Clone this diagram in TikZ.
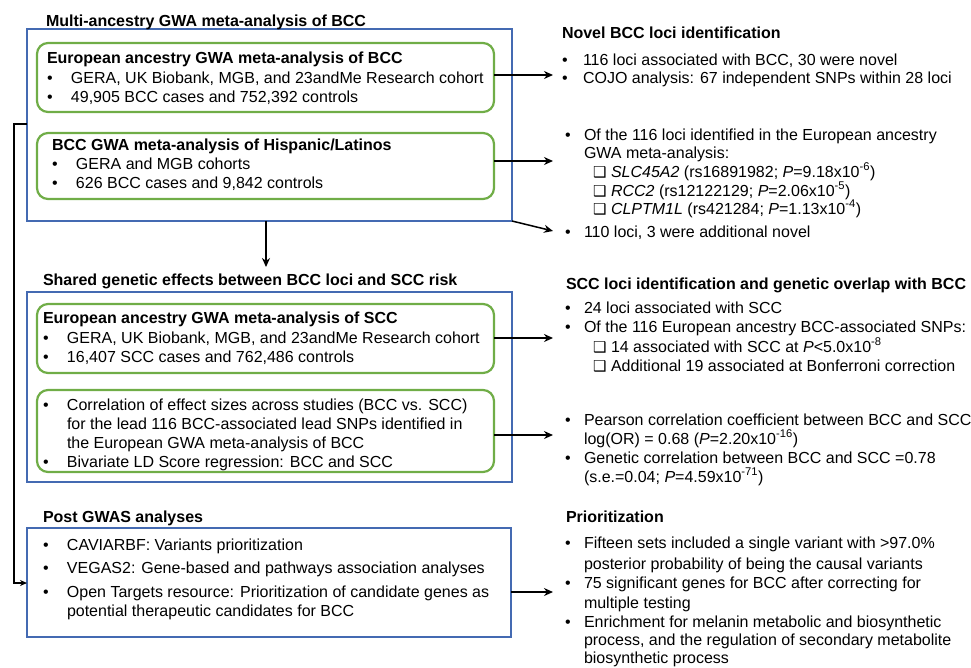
\documentclass[tikz,border=0pt]{standalone}
\usepackage{fontspec}
\setmainfont{Liberation Sans}
\newfontfamily\dejavu{DejaVu Sans}
\usetikzlibrary{arrows.meta}
\definecolor{boxblue}{RGB}{68,106,178}
\definecolor{boxgreen}{RGB}{112,173,71}
\newcommand\tstrut{\rule{0pt}{13pt}}
\newcommand\bL{\makebox[24pt][l]{\textbullet}}
\newcommand\bR{\makebox[21pt][l]{\textbullet}}
\newcommand\bS{\makebox[19pt][l]{\textbullet}}
\newcommand\cb{\hspace*{28pt}\makebox[18pt][l]{{\dejavu\fontsize{15}{19}\selectfont ❑}}}
\newcommand\spx[1]{\textsuperscript{#1}}
\begin{document}
\begin{tikzpicture}[x=1pt,y=-1pt,
  bluebox/.style={draw=boxblue, line width=1.5pt, anchor=north west, inner sep=0pt, outer sep=0pt},
  greenbox/.style={draw=boxgreen, line width=2.2pt, rounded corners=11pt, anchor=north west, inner sep=0pt, outer sep=0pt},
  txt/.style={anchor=north west, inner sep=0pt, outer sep=0pt, align=left, font=\fontsize{16}{19}\selectfont},
  ttl/.style={txt, font=\fontsize{16}{19}\selectfont\bfseries},
  arr/.style={line width=1.5pt, -{Stealth[length=9pt,width=8pt]}}]
\useasboundingbox (0,0) rectangle (971,667);

% boxes
\node[bluebox, minimum width=485pt, minimum height=192pt] (b1) at (27,29) {};
\node[bluebox, minimum width=485pt, minimum height=190pt] (b2) at (27,292) {};
\node[bluebox, minimum width=484pt, minimum height=109pt] (b3) at (27,528) {};
\node[greenbox, minimum width=457pt, minimum height=69pt] (g1) at (37,43) {};
\node[greenbox, minimum width=457pt, minimum height=66pt] (g2) at (37,133) {};
\node[greenbox, minimum width=457pt, minimum height=69pt] (g3) at (37,304) {};
\node[greenbox, minimum width=457pt, minimum height=82pt] (g4) at (37,390) {};

% left texts
\node[ttl] (t1) at (46,13) {\tstrut Multi-ancestry GWA meta-analysis of BCC};
\node[txt] (g1t) at (47,50) {\tstrut\textbf{European ancestry GWA meta-analysis of BCC}\\[1pt]
  \bL GERA, UK Biobank, MGB, and 23andMe Research cohort\\
  \bL 49,905 BCC cases and 752,392 controls};
\node[txt] (g2t) at (52,137) {\tstrut\textbf{BCC GWA meta-analysis of Hispanic/Latinos}\\
  \bL GERA and MGB cohorts\\
  \bL 626 BCC cases and 9,842 controls};
\node[ttl] (t2) at (43,272) {\tstrut Shared genetic effects between BCC loci and SCC risk};
\node[txt] (g3t) at (43,310) {\tstrut\textbf{European ancestry GWA meta-analysis of SCC}\\[1pt]
  \bL GERA, UK Biobank, MGB, and 23andMe Research cohort\\
  \bL 16,407 SCC cases and 762,486 controls};
\node[txt] (g4t) at (43,397) {\tstrut\bL Correlation of effect sizes across studies (BCC vs. SCC)\\
  \hspace*{24pt}for the lead 116 BCC-associated lead SNPs identified in\\
  \hspace*{24pt}the European GWA meta-analysis of BCC\\
  \bL Bivariate LD Score regression: BCC and SCC};
\node[ttl] (t3) at (43,509) {\tstrut Post GWAS analyses};
\node[txt] (b3t) at (43,537) {\tstrut\bL CAVIARBF: Variants prioritization\\[4pt]
  \bL VEGAS2: Gene-based and pathways association analyses\\[5pt]
  \bL Open Targets resource: Prioritization of candidate genes as\\
  \hspace*{24pt}potential therapeutic candidates for BCC};

% right texts
\node[ttl] (r1h) at (562,25) {\tstrut Novel BCC loci identification};
\node[txt] (r1) at (562,52) {\tstrut\bR 116 loci associated with BCC, 30 were novel\\[-1pt]
  \bR COJO analysis: 67 independent SNPs within 28 loci};
\node[txt] (r2) at (565,127) {\tstrut\bS Of the 116 loci identified in the European ancestry\\[-1pt]
  \hspace*{19pt}GWA meta-analysis:\\
  \cb\textit{SLC45A2} (rs16891982; \textit{P}=9.18x10\spx{-6})\\
  \cb\textit{RCC2} (rs12122129; \textit{P}=2.06x10\spx{-5})\\[-1pt]
  \cb\textit{CLPTM1L} (rs421284; \textit{P}=1.13x10\spx{-4})};
\node[txt] (r2b) at (565,224) {\tstrut\bS 110 loci, 3 were additional novel};
\node[ttl] (r3h) at (566,276) {\tstrut SCC loci identification and genetic overlap with BCC};
\node[txt] (r3) at (565,300) {\tstrut\bS 24 loci associated with SCC\\
  \bS Of the 116 European ancestry BCC-associated SNPs:\\[1pt]
  \cb 14 associated with SCC at \textit{P}<5.0x10\spx{-8}\\
  \cb Additional 19 associated at Bonferroni correction};
\node[txt] (r4) at (565,412) {\tstrut\bS Pearson correlation coefficient between BCC and SCC\\
  \hspace*{19pt}log(OR) = 0.68 (\textit{P}=2.20x10\spx{-16})\\
  \bS Genetic correlation between BCC and SCC =0.78\\
  \hspace*{19pt}(s.e.=0.04; \textit{P}=4.59x10\spx{-71})};
\node[ttl] (r5h) at (566,509) {\tstrut Prioritization};
\node[txt] (r5) at (565,535) {\tstrut\bS Fifteen sets included a single variant with >97.0\%\\[2pt]
  \hspace*{19pt}posterior probability of being the causal variants\\
  \bS 75 significant genes for BCC after correcting for\\[1pt]
  \hspace*{19pt}multiple testing\\
  \bS Enrichment for melanin metabolic and biosynthetic\\[-1pt]
  \hspace*{19pt}process, and the regulation of secondary metabolite\\[-1pt]
  \hspace*{19pt}biosynthetic process};

% connectors
\coordinate (e1) at (553,75);
\coordinate (e2) at (553,161);
\coordinate (e3) at (553,231);
\coordinate (e4) at (553,338);
\coordinate (e5) at (553,435);
\coordinate (e6) at (553,592);
\coordinate (d1) at (266,267);
\coordinate (k1) at (14,124);
\coordinate (k2) at (14,583);
\draw[arr] (g1.east |- e1) -- (e1);
\draw[arr] (g2.east |- e2) -- (e2);
\draw[arr] (b1.south east) -- (e3);
\draw[arr] (g3.east |- e4) -- (e4);
\draw[arr] (g4.east |- e5) -- (e5);
\draw[arr] (b3.east |- e6) -- (e6);
\draw[arr] (b1.south -| d1) -- (d1);
\draw[line width=1.5pt, -{Stealth[length=7pt,width=6pt]}] (b1.west |- k1) -- (k1) -- (k2) -- (b3.west |- k2);
\end{tikzpicture}
\end{document}
